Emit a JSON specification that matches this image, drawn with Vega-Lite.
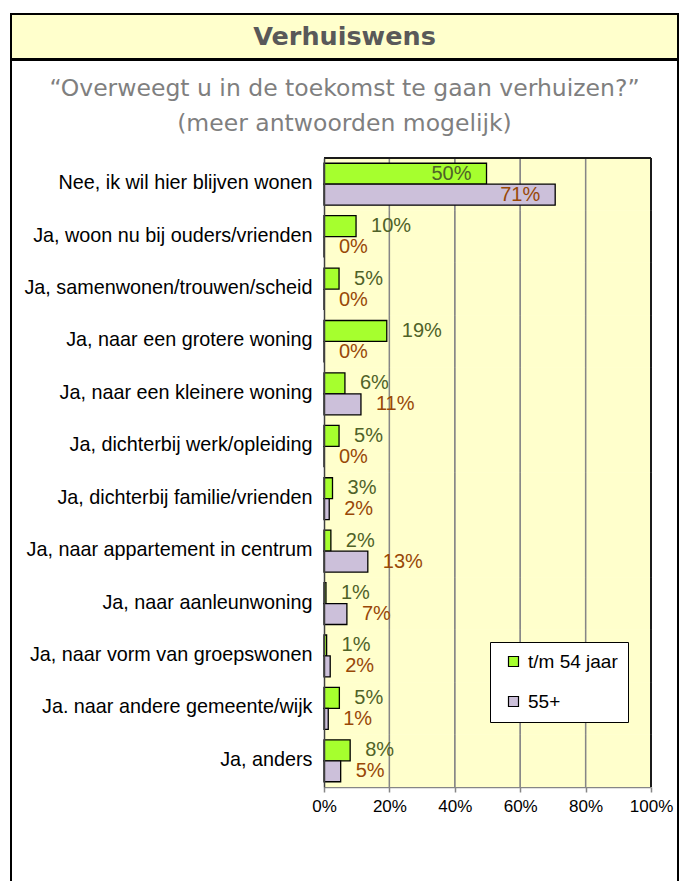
{
  "$schema": "https://vega.github.io/schema/vega-lite/v6.json",
  "background": "white",
  "padding": {"left": 10, "top": 13, "right": 6, "bottom": 0},
  "spacing": -2,
  "config": {"font": "Liberation Sans", "concat": {"spacing": -2}},
  "datasets": {
    "resp": [
      {"cat": "Nee, ik wil hier blijven wonen", "s": "t/m 54 jaar", "v": 0.497},
      {"cat": "Nee, ik wil hier blijven wonen", "s": "55+", "v": 0.707},
      {"cat": "Ja, woon nu bij ouders/vrienden", "s": "t/m 54 jaar", "v": 0.098},
      {"cat": "Ja, woon nu bij ouders/vrienden", "s": "55+", "v": 0},
      {"cat": "Ja, samenwonen/trouwen/scheid", "s": "t/m 54 jaar", "v": 0.046},
      {"cat": "Ja, samenwonen/trouwen/scheid", "s": "55+", "v": 0},
      {"cat": "Ja, naar een grotere woning", "s": "t/m 54 jaar", "v": 0.192},
      {"cat": "Ja, naar een grotere woning", "s": "55+", "v": 0},
      {"cat": "Ja, naar een kleinere woning", "s": "t/m 54 jaar", "v": 0.064},
      {"cat": "Ja, naar een kleinere woning", "s": "55+", "v": 0.113},
      {"cat": "Ja, dichterbij werk/opleiding", "s": "t/m 54 jaar", "v": 0.046},
      {"cat": "Ja, dichterbij werk/opleiding", "s": "55+", "v": 0},
      {"cat": "Ja, dichterbij familie/vrienden", "s": "t/m 54 jaar", "v": 0.026},
      {"cat": "Ja, dichterbij familie/vrienden", "s": "55+", "v": 0.016},
      {"cat": "Ja, naar appartement in centrum", "s": "t/m 54 jaar", "v": 0.021},
      {"cat": "Ja, naar appartement in centrum", "s": "55+", "v": 0.134},
      {"cat": "Ja, naar aanleunwoning", "s": "t/m 54 jaar", "v": 0.006},
      {"cat": "Ja, naar aanleunwoning", "s": "55+", "v": 0.07},
      {"cat": "Ja, naar vorm van groepswonen", "s": "t/m 54 jaar", "v": 0.008},
      {"cat": "Ja, naar vorm van groepswonen", "s": "55+", "v": 0.019},
      {"cat": "Ja. naar andere gemeente/wijk", "s": "t/m 54 jaar", "v": 0.047},
      {"cat": "Ja. naar andere gemeente/wijk", "s": "55+", "v": 0.013},
      {"cat": "Ja, anders", "s": "t/m 54 jaar", "v": 0.08},
      {"cat": "Ja, anders", "s": "55+", "v": 0.051}
    ]
  },
  "vconcat": [
    {
      "width": 667,
      "height": 45,
      "view": {"fill": "#FFFFCC", "stroke": "black", "strokeWidth": 2},
      "data": {"values": [{"t": "Verhuiswens"}]},
      "mark": {"type": "text", "font": "DejaVu Sans", "fontWeight": "bold", "fontSize": 25.5, "color": "#595959", "baseline": "middle", "align": "center"},
      "encoding": {"text": {"field": "t", "type": "nominal"}}
    },
    {
      "width": 667,
      "height": 822,
      "view": {"fill": "white", "stroke": "black", "strokeWidth": 2},
      "title": {
        "text": ["\u201cOverweegt u in de toekomst te gaan verhuizen?\u201d", "(meer antwoorden mogelijk)"],
        "font": "DejaVu Sans",
        "fontSize": 23.5,
        "fontWeight": "normal",
        "color": "#7F7F7F",
        "lineHeight": 35,
        "anchor": "middle",
        "frame": "group",
        "offset": -75
      },
      "data": {"name": "resp"},
      "layer": [
        {
          "mark": {"type": "rect", "fill": "#FFFFCC"},
          "encoding": {
            "x": {"datum": 0, "type": "quantitative",
              "scale": {"domain": [0, 1], "range": [313, 640], "nice": false, "zero": true},
              "axis": {"orient": "bottom", "offset": -95, "values": [0, 0.2, 0.4, 0.6, 0.8, 1], "format": ".0%",
                "grid": false, "title": null, "domainColor": "#868686", "domainWidth": 1.5,
                "tickColor": "#868686", "tickSize": 5, "tickWidth": 1.5,
                "labelFont": "Liberation Sans", "labelFontSize": 17, "labelColor": "black", "labelPadding": 6, "labelFlush": false}},
            "x2": {"datum": 1},
            "y": {"field": "cat", "type": "nominal", "sort": null,
              "scale": {"domain": ["Nee, ik wil hier blijven wonen", "Ja, woon nu bij ouders/vrienden", "Ja, samenwonen/trouwen/scheid", "Ja, naar een grotere woning", "Ja, naar een kleinere woning", "Ja, dichterbij werk/opleiding", "Ja, dichterbij familie/vrienden", "Ja, naar appartement in centrum", "Ja, naar aanleunwoning", "Ja, naar vorm van groepswonen", "Ja. naar andere gemeente/wijk", "Ja, anders"],
                "range": [98, 727], "paddingInner": 0, "paddingOuter": 0},
              "axis": {"orient": "left", "offset": -313, "title": null, "ticks": false, "grid": false,
                "domainColor": "#404040", "domainWidth": 1.5,
                "labelFont": "Liberation Sans", "labelFontSize": 19.8, "labelColor": "black", "labelPadding": 12, "labelLimit": 500, "labelOffset": -1}}
          }
        },
        {
          "mark": {"type": "rect", "filled": false, "color": "#868686", "strokeWidth": 1.3},
          "encoding": {"x": {"datum": 0.2, "type": "quantitative"}, "x2": {"datum": 0.2}, "y": {"field": "cat", "type": "nominal"}}
        },
        {
          "mark": {"type": "rect", "filled": false, "color": "#868686", "strokeWidth": 1.3},
          "encoding": {"x": {"datum": 0.4, "type": "quantitative"}, "x2": {"datum": 0.4}, "y": {"field": "cat", "type": "nominal"}}
        },
        {
          "mark": {"type": "rect", "filled": false, "color": "#868686", "strokeWidth": 1.3},
          "encoding": {"x": {"datum": 0.6, "type": "quantitative"}, "x2": {"datum": 0.6}, "y": {"field": "cat", "type": "nominal"}}
        },
        {
          "mark": {"type": "rect", "filled": false, "color": "#868686", "strokeWidth": 1.3},
          "encoding": {"x": {"datum": 0.8, "type": "quantitative"}, "x2": {"datum": 0.8}, "y": {"field": "cat", "type": "nominal"}}
        },
        {
          "mark": {"type": "rect", "filled": false, "color": "#1a1a1a", "strokeWidth": 1.8},
          "encoding": {"x": {"datum": 1, "type": "quantitative"}, "x2": {"datum": 1}, "y": {"field": "cat", "type": "nominal"}}
        },
        {
          "transform": [{"filter": "datum.cat == 'Nee, ik wil hier blijven wonen'"}],
          "mark": {"type": "rule", "color": "#1a1a1a", "strokeWidth": 1.8},
          "encoding": {"x": {"datum": 0, "type": "quantitative"}, "x2": {"datum": 1}, "y": {"field": "cat", "type": "nominal", "bandPosition": 0}}
        },
        {
          "mark": {"type": "bar", "stroke": "black", "strokeWidth": 1.3},
          "encoding": {
            "x": {"field": "v", "type": "quantitative"},
            "y": {"field": "cat", "type": "nominal"},
            "yOffset": {"field": "s", "type": "nominal", "sort": ["t/m 54 jaar", "55+"],
              "scale": {"domain": ["t/m 54 jaar", "55+"], "paddingInner": 0, "paddingOuter": 0.25}},
            "color": {"field": "s", "type": "nominal",
              "scale": {"domain": ["t/m 54 jaar", "55+"], "range": ["#A6FF2E", "#CCC0DA"]},
              "legend": {"title": null, "orient": "none", "legendX": 479, "legendY": 628,
                "fillColor": "white", "strokeColor": "black", "padding": 10,
                "symbolType": "square", "symbolSize": 100, "symbolStrokeColor": "black", "symbolStrokeWidth": 1.2,
                "symbolOffset": 4, "labelOffset": 5,
                "labelFont": "Liberation Sans", "labelFontSize": 19, "labelColor": "black", "rowPadding": 20}}
          }
        },
        {
          "transform": [{"filter": "datum.v < 0.3"}],
          "mark": {"type": "text", "align": "left", "baseline": "middle", "dx": 15, "fontSize": 20, "font": "Liberation Sans"},
          "encoding": {
            "x": {"field": "v", "type": "quantitative"},
            "y": {"field": "cat", "type": "nominal"},
            "yOffset": {"field": "s", "type": "nominal", "sort": ["t/m 54 jaar", "55+"]},
            "text": {"field": "v", "type": "quantitative", "format": ".0%"},
            "fill": {"field": "s", "type": "nominal", "scale": {"domain": ["t/m 54 jaar", "55+"], "range": ["#4F6228", "#984807"]}, "legend": null}
          }
        },
        {
          "transform": [{"filter": "datum.v >= 0.3"}],
          "mark": {"type": "text", "align": "right", "baseline": "middle", "dx": -15, "fontSize": 20, "font": "Liberation Sans"},
          "encoding": {
            "x": {"field": "v", "type": "quantitative"},
            "y": {"field": "cat", "type": "nominal"},
            "yOffset": {"field": "s", "type": "nominal", "sort": ["t/m 54 jaar", "55+"]},
            "text": {"field": "v", "type": "quantitative", "format": ".0%"},
            "fill": {"field": "s", "type": "nominal", "scale": {"domain": ["t/m 54 jaar", "55+"], "range": ["#4F6228", "#984807"]}, "legend": null}
          }
        }
      ]
    }
  ]
}
